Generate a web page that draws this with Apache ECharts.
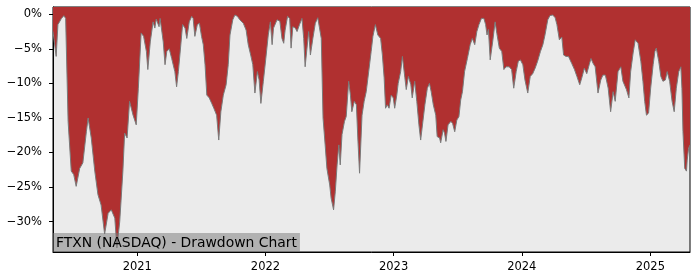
<!DOCTYPE html>
<html>
<head>
<meta charset="utf-8">
<script src="https://cdn.jsdelivr.net/npm/echarts@6/dist/echarts.min.js"></script>
<style>
html,body{margin:0;padding:0;background:#fff;}
#chart{width:700px;height:280px;}
</style>
</head>
<body>
<div id="chart"></div>
<script>
const titleText = 'FTXN (NASDAQ) - Drawdown Chart';
const yearTicks = ['2021-01-01','2022-01-01','2023-01-01','2024-01-01','2025-01-01'];
const yTicks = [-30,-25,-20,-15,-10,-5,0];

const dates = [
'2020-05-06','2020-05-15','2020-05-20','2020-05-30','2020-06-06','2020-06-11','2020-06-18','2020-06-27','2020-07-04','2020-07-11',
'2020-07-21','2020-07-30','2020-08-09','2020-08-14','2020-08-23','2020-09-02','2020-09-11','2020-09-20','2020-09-30','2020-10-10',
'2020-10-19','2020-10-29','2020-11-04','2020-11-12','2020-11-21','2020-11-26','2020-12-03','2020-12-10','2020-12-20','2020-12-29',
'2021-01-04','2021-01-12','2021-01-19','2021-01-27','2021-01-31','2021-02-07','2021-02-15','2021-02-20','2021-02-24','2021-03-04',
'2021-03-07','2021-03-16','2021-03-21','2021-03-26','2021-04-02','2021-04-09','2021-04-18','2021-04-23','2021-04-28','2021-05-05',
'2021-05-10','2021-05-17','2021-05-22','2021-05-29','2021-06-05','2021-06-09','2021-06-14','2021-06-21','2021-06-27','2021-07-03',
'2021-07-08','2021-07-13','2021-07-18','2021-07-25','2021-08-01','2021-08-07','2021-08-15','2021-08-21','2021-08-27','2021-09-03',
'2021-09-11','2021-09-17','2021-09-22','2021-09-30','2021-10-06','2021-10-13','2021-10-20','2021-10-30','2021-11-07','2021-11-13',
'2021-11-20','2021-11-26','2021-12-02','2021-12-09','2021-12-14','2021-12-19','2021-12-26','2022-01-02','2022-01-09','2022-01-15',
'2022-01-20','2022-01-24','2022-02-03','2022-02-11','2022-02-17','2022-02-22','2022-02-26','2022-03-05','2022-03-11','2022-03-15',
'2022-03-20','2022-03-27','2022-04-01','2022-04-08','2022-04-15','2022-04-20','2022-04-24','2022-04-29','2022-05-04','2022-05-09',
'2022-05-16','2022-05-23','2022-05-30','2022-06-04','2022-06-09','2022-06-14','2022-06-20','2022-06-25','2022-07-03','2022-07-07',
'2022-07-14','2022-07-19','2022-07-24','2022-07-29','2022-08-02','2022-08-07','2022-08-14','2022-08-19','2022-08-26','2022-08-31',
'2022-09-04','2022-09-11','2022-09-17','2022-09-21','2022-09-26','2022-10-03','2022-10-09','2022-10-15','2022-10-22','2022-10-29',
'2022-11-03','2022-11-10','2022-11-14','2022-11-17','2022-11-25','2022-11-30','2022-12-05','2022-12-09','2022-12-14','2022-12-19',
'2022-12-25','2022-12-31','2023-01-04','2023-01-10','2023-01-14','2023-01-21','2023-01-26','2023-02-02','2023-02-06','2023-02-12',
'2023-02-19','2023-02-23','2023-03-02','2023-03-08','2023-03-14','2023-03-19','2023-03-24','2023-03-31','2023-04-07','2023-04-13',
'2023-04-18','2023-04-24','2023-05-01','2023-05-05','2023-05-12','2023-05-15','2023-05-22','2023-05-26','2023-05-30','2023-06-05',
'2023-06-13','2023-06-18','2023-06-24','2023-06-30','2023-07-06','2023-07-11','2023-07-16','2023-07-22','2023-07-30','2023-08-07',
'2023-08-13','2023-08-20','2023-08-26','2023-09-01','2023-09-08','2023-09-15','2023-09-20','2023-09-24','2023-09-28','2023-10-03',
'2023-10-10','2023-10-17','2023-10-22','2023-10-29','2023-11-05','2023-11-11','2023-11-17','2023-11-26','2023-12-03','2023-12-09',
'2023-12-16','2023-12-22','2023-12-28','2024-01-04','2024-01-10','2024-01-18','2024-01-25','2024-02-01','2024-02-08','2024-02-15',
'2024-02-23','2024-03-01','2024-03-07','2024-03-15','2024-03-21','2024-03-29','2024-04-05','2024-04-10','2024-04-17','2024-04-24',
'2024-04-29','2024-05-06','2024-05-13','2024-05-18','2024-05-22','2024-05-30','2024-06-06','2024-06-14','2024-06-21','2024-06-27',
'2024-07-04','2024-07-11','2024-07-16','2024-07-22','2024-07-28','2024-08-05','2024-08-13','2024-08-19','2024-08-26','2024-09-03',
'2024-09-10','2024-09-17','2024-09-23','2024-10-01','2024-10-09','2024-10-15','2024-10-25','2024-11-01','2024-11-06','2024-11-13',
'2024-11-19','2024-11-27','2024-12-05','2024-12-11','2024-12-16','2024-12-21','2024-12-27','2025-01-02','2025-01-09','2025-01-14',
'2025-01-18','2025-01-25','2025-01-31','2025-02-06','2025-02-13','2025-02-18','2025-02-25','2025-03-04','2025-03-10','2025-03-16',
'2025-03-23','2025-03-29','2025-04-01','2025-04-04','2025-04-09','2025-04-14','2025-04-16','2025-04-20','2025-04-24'
];

const drawdown = [
-2.5,-6.1,-1.5,-0.6,-0.2,-0.6,-15.5,-22.7,-23.2,-24.9,
-22.3,-21.5,-17.0,-15.0,-17.9,-22.7,-26.1,-27.6,-31.8,-28.8,
-28.3,-29.5,-33.8,-30.0,-22.7,-17.2,-17.9,-12.6,-14.6,-16.0,
-10.7,-2.7,-3.2,-5.4,-8.0,-4.0,-1.1,-2.0,-0.7,-1.8,
-0.6,-4.0,-7.3,-5.4,-5.0,-6.4,-8.3,-10.5,-8.3,-4.4,
-1.5,-2.0,-3.5,-1.1,-0.3,-0.6,-3.2,-1.5,-1.3,-3.2,
-4.4,-7.3,-11.7,-12.1,-12.9,-13.6,-14.6,-18.2,-14.1,-11.7,
-10.2,-7.3,-3.0,-0.8,-0.1,-0.3,-0.8,-1.3,-2.3,-4.4,
-5.9,-7.3,-11.4,-8.3,-9.5,-12.9,-9.7,-6.4,-3.0,-1.1,
-4.4,-2.0,-0.8,-1.0,-3.5,-4.2,-2.3,-0.3,-0.6,-4.9,
-1.8,-2.0,-2.5,-1.5,-0.6,-3.5,-7.6,-7.8,-2.5,-5.9,
-3.5,-1.3,-0.5,-0.3,-3.5,-15.0,-18.9,-22.3,-24.7,-26.6,
-28.3,-25.6,-21.8,-18.9,-21.8,-17.4,-15.5,-14.8,-9.7,-11.7,
-14.1,-12.6,-13.1,-17.9,-23.0,-14.6,-12.6,-11.2,-8.3,-5.4,
-3.2,-1.5,-1.3,-3.0,-3.5,-5.9,-9.2,-13.6,-13.1,-13.6,
-11.7,-12.1,-13.6,-11.7,-10.0,-8.3,-6.1,-9.2,-10.9,-9.0,
-10.2,-12.1,-9.7,-12.6,-16.0,-18.2,-18.0,-13.1,-10.7,-10.0,
-11.2,-13.1,-14.6,-17.7,-17.9,-18.6,-16.7,-17.2,-18.4,-16.0,
-15.5,-15.8,-17.0,-15.3,-14.8,-12.4,-11.2,-8.3,-6.4,-4.4,
-3.5,-4.4,-2.5,-1.5,-0.6,-0.6,-1.5,-3.0,-2.2,-6.6,
-4.0,-1.1,-2.8,-4.9,-5.4,-8.0,-7.6,-7.6,-8.0,-10.7,
-8.3,-6.8,-6.6,-7.3,-9.5,-11.4,-9.0,-8.6,-7.8,-6.8,
-5.4,-4.4,-3.0,-0.8,-0.2,-0.1,-0.5,-1.5,-3.7,-3.3,
-5.9,-6.1,-6.1,-5.9,-7.1,-8.0,-9.0,-10.2,-9.0,-7.8,
-8.6,-7.3,-6.4,-7.1,-7.6,-11.4,-9.5,-8.8,-8.8,-10.7,
-14.1,-11.2,-12.6,-8.3,-7.6,-9.7,-10.9,-12.1,-8.3,-5.6,
-3.7,-4.2,-6.8,-9.7,-12.6,-14.6,-14.3,-10.7,-7.3,-5.4,
-4.9,-6.8,-9.0,-9.7,-9.5,-8.3,-9.7,-12.6,-14.1,-10.7,
-8.3,-7.6,-10.7,-17.0,-22.3,-22.7,-21.1,-19.4,-18.9
];

const FONT = 'DejaVu Sans';
const chart = echarts.init(document.getElementById('chart'), null, {renderer: 'canvas'});
const toTime = s => Date.parse(s);
const seriesData = dates.map((d, i) => [toTime(d), drawdown[i]]);
const xTickValues = yearTicks.map(toTime);

chart.setOption({
  animation: false,
  backgroundColor: '#ffffff',
  title: {
    text: titleText,
    left: 53,
    top: 233,
    padding: [3, 3, 2, 3],
    backgroundColor: 'rgba(120,120,120,0.5)',
    textStyle: {fontFamily: FONT, fontSize: 13.9, fontWeight: 'normal', color: '#000'},
    z: 10
  },
  grid: {
    left: 53, right: 10, top: 7, bottom: 28,
    show: true, backgroundColor: '#ebebeb', borderColor: '#000', borderWidth: 1,
    containLabel: false, outerBoundsMode: 'none'
  },
  xAxis: {
    type: 'value',
    min: toTime(dates[0]),
    max: toTime(dates[dates.length - 1]),
    axisLine: {show: true, onZero: false, lineStyle: {color: '#000', width: 1}},
    axisTick: {show: true, length: 4, lineStyle: {color: '#000'}, customValues: xTickValues},
    axisLabel: {
      customValues: xTickValues,
      margin: 9,
      color: '#000', fontFamily: FONT, fontSize: 11.5,
      formatter: v => String(new Date(v).getUTCFullYear())
    },
    splitLine: {show: false}
  },
  yAxis: {
    type: 'value',
    min: -34.4,
    max: 1.05,
    axisLine: {show: true, lineStyle: {color: '#000', width: 1}},
    axisTick: {show: true, length: 4, lineStyle: {color: '#000'}, customValues: yTicks},
    axisLabel: {
      customValues: yTicks,
      margin: 11,
      color: '#000', fontFamily: FONT, fontSize: 11.5,
      formatter: v => (v === 0 ? '0' : '\u2212' + Math.abs(v)) + '%'
    },
    splitLine: {show: false}
  },
  series: [{
    type: 'line',
    data: seriesData,
    showSymbol: false,
    symbol: 'none',
    smooth: false,
    lineStyle: {color: '#7a7a7a', width: 1},
    areaStyle: {color: '#b03030', opacity: 1, origin: 'end'},
    z: 2
  }]
});
</script>
</body>
</html>
